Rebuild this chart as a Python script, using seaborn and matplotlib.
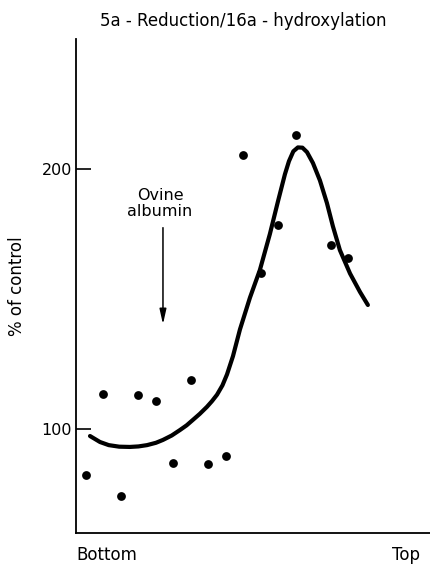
import matplotlib
matplotlib.use("Agg")
import matplotlib.pyplot as plt
import seaborn as sns
import pandas as pd

# Fraction numbers (gradient fractions) and measured activity (% of control)
fraction = [1, 2, 3, 4, 5, 6, 7, 8, 9, 10, 11, 12, 13, 15, 16]
pct_control = [82.3, 113.5, 74.2, 113.1, 110.8, 86.9, 118.8, 86.5, 89.6,
               205.4, 160.0, 178.5, 213.1, 170.8, 165.8]

# Hand-drawn smooth trend curve
curve_x = [1.23, 1.8, 2.3, 2.9, 3.51, 4.0, 4.49, 5.0, 5.4, 5.9, 6.37, 6.75,
           7.11, 7.5, 7.91, 8.2, 8.49, 8.8, 9.06, 9.4, 9.8, 10.37, 10.94,
           11.51, 11.97, 12.37, 12.6, 12.85, 13.11, 13.37, 13.63, 13.97,
           14.37, 14.77, 15.11, 15.51, 16.09, 16.66, 17.11]
curve_y = [97.3, 95.0, 93.8, 93.2, 93.1, 93.3, 93.8, 94.7, 95.8, 97.5, 99.6,
           101.4, 103.5, 105.8, 108.5, 110.7, 113.2, 116.8, 121.0, 128.0, 138.3,
           150.5, 161.2, 175.0, 187.5, 198.0, 203.0, 206.8, 208.3, 208.2, 206.5,
           202.3, 195.6, 186.9, 178.0, 168.8, 159.8, 152.7, 147.7]

y_ticks = [100, 200]
x_end_labels = ["Bottom", "Top"]
x_end_pos = [2.2, 19.3]
marker_label = "Ovine\nalbumin"
marker_pos = 5.4
title = "5a - Reduction/16a - hydroxylation"
ylabel = "% of control"

sns.set_style("white")
plt.rcParams["font.family"] = ["DejaVu Sans"]
plt.rcParams["text.color"] = "black"
plt.rcParams["axes.labelcolor"] = "black"

pts = pd.DataFrame({"fraction": fraction, "pct": pct_control})
crv = pd.DataFrame({"x": curve_x, "y": curve_y})

fig = plt.figure(figsize=(4.3, 5.64), dpi=100)
ax = fig.add_axes([76 / 430, 1 - 533 / 564, 354 / 430, 494 / 564])

sns.lineplot(data=crv, x="x", y="y", ax=ax, color="black", linewidth=3.0,
             sort=False, estimator=None, solid_joinstyle="round",
             solid_capstyle="round")
sns.scatterplot(data=pts, x="fraction", y="pct", ax=ax, color="black",
                s=40, edgecolor="black", linewidth=0, zorder=3)

ax.set_xlim(0.43, 20.66)
ax.set_ylim(60, 250)

for side in ["top", "right"]:
    ax.spines[side].set_visible(False)
for side in ["left", "bottom"]:
    ax.spines[side].set_color("black")
    ax.spines[side].set_linewidth(1.3)

ax.set_yticks(y_ticks)
ax.set_yticklabels([str(v) for v in y_ticks], fontsize=11.5)
ax.tick_params(axis="y", direction="in", length=11, width=1.2, pad=3,
               colors="black", left=True)
ax.set_xticks(x_end_pos)
ax.set_xticklabels(x_end_labels, fontsize=12)
ax.tick_params(axis="x", length=0, pad=9, colors="black", bottom=True)

ax.set_xlabel("")
ax.set_ylabel(ylabel, fontsize=12)
ax.yaxis.set_label_coords(-0.14, 0.50)

ax.annotate("", xy=(marker_pos, 139.2), xytext=(marker_pos, 178.5),
            arrowprops=dict(arrowstyle="-|>,head_length=0.9,head_width=0.2",
                            color="black", lw=1.1))
ax.text(marker_pos - 0.17, 186.7, marker_label, ha="center", va="center",
        fontsize=11.5, linespacing=1.05, color="black")

fig.text(243 / 430, 1 - 21 / 564, title, ha="center", va="center",
         fontsize=12, color="black")

fig.savefig("out.png", dpi=100)
